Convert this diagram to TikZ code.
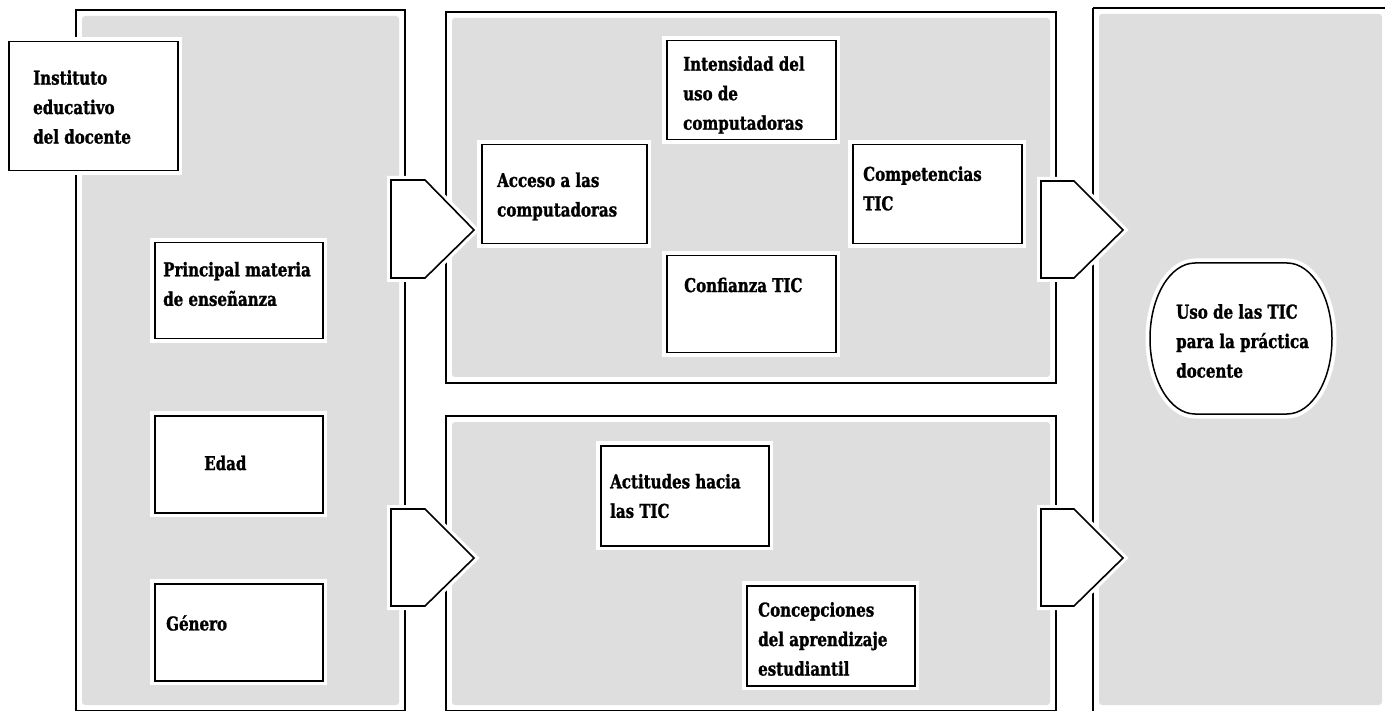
\documentclass[tikz,border=0pt]{standalone}
\usepackage{fontspec}
\newfontfamily\labfont{DejaVu Serif Condensed}[FakeStretch=0.88, FakeBold=1.3]
\definecolor{panelgrey}{HTML}{DEDEDE}
\tikzset{
  frame/.style={draw=black, line width=1.8pt, fill=white},
  inner/.style={fill=panelgrey, rounded corners=3pt},
  box/.style={draw=black, line width=1.5pt, fill=white, rectangle, inner sep=0pt,
     anchor=north west, preaction={draw=white, line width=9pt}},
  lbl/.style={font=\labfont\bfseries\fontsize{19}{29.5}\selectfont, align=left,
     anchor=west, inner sep=0pt, text=black},
  pent/.style={draw=black, line width=1.6pt, fill=white, line join=miter,
     preaction={draw=white, line width=8pt}},
}
\begin{document}
\begin{tikzpicture}[x=1pt,y=-1pt]
\useasboundingbox (0,0) rectangle (1385,711);
\begin{scope}
\clip (0,0) rectangle (1385,711);
% panels
\draw[frame] (76,10) rectangle (405,711);
\fill[inner] (82,16) rectangle (399,705);
\draw[frame] (446,12) rectangle (1056,383);
\fill[inner] (452,18) rectangle (1050,377);
\draw[frame] (446,416) rectangle (1056,711);
\fill[inner] (452,422) rectangle (1050,705);
\draw[frame] (1093,8) -- (1395,8) (1093,8) -- (1093,711);
\fill[inner] (1099,14) rectangle (1382,705);
\end{scope}

% left column boxes
\node[box, minimum width=169pt, minimum height=129pt] (inst) at (8,41) {};
\node[box, minimum width=168pt, minimum height=96pt] (mat) at (154,242) {};
\node[box, minimum width=168pt, minimum height=97pt] (edad) at (154,415) {};
\node[box, minimum width=168pt, minimum height=97pt] (gen) at (154,583) {};

% top middle boxes
\node[box, minimum width=165pt, minimum height=99pt] (acc) at (481,144) {};
\node[box, minimum width=169pt, minimum height=99pt] (int) at (666,40) {};
\node[box, minimum width=169pt, minimum height=99pt] (comp) at (852,144) {};
\node[box, minimum width=169pt, minimum height=97pt] (conf) at (666,255) {};

% bottom middle boxes
\node[box, minimum width=168pt, minimum height=100pt] (act) at (600,445) {};
\node[box, minimum width=168pt, minimum height=100pt] (conc) at (746,585) {};

% oval
\draw[draw=black, line width=1.5pt, fill=white, preaction={draw=white, line width=9pt}]
  (1195,263) -- (1287,263) arc[start angle=-90, end angle=90, x radius=45, y radius=75.5]
  -- (1195,414) arc[start angle=90, end angle=270, x radius=45, y radius=75.5] -- cycle;
\coordinate (uso) at (1241,338.5);

% pentagon arrows
\draw[pent] (391,180) -- (425,180) -- (474,230) -- (425,278) -- (391,278) -- cycle;
\draw[pent] (391,509) -- (425,509) -- (474,558) -- (425,606) -- (391,606) -- cycle;
\draw[pent] (1041,181) -- (1074,181) -- (1123,230) -- (1074,278) -- (1041,278) -- cycle;
\draw[pent] (1041,509) -- (1074,509) -- (1123,558) -- (1074,606) -- (1041,606) -- cycle;

% labels
\node[lbl] (tinst) at (33,107) {Instituto\\educativo\\del docente};
\node[lbl] (tmat) at (163,284) {Principal materia\\de enseñanza};
\node[lbl] (tedad) at (204,463) {Edad};
\node[lbl] (tgen) at (166,623) {Género};
\node[lbl] (tint) at (683,95) {Intensidad del\\uso de\\computadoras};
\node[lbl] (tacc) at (497,196.5) {Acceso a las\\computadoras};
\node[lbl] (tcomp) at (863,188.5) {Competencias\\TIC};
\node[lbl] (tconf) at (684,285) {Confianza TIC};
\node[lbl] (tact) at (610,496) {Actitudes hacia\\las TIC};
\node[lbl] (tconc) at (758,639) {Concepciones\\del aprendizaje\\estudiantil};
\node[lbl] (tuso) at (1176,341) {Uso de las TIC\\para la práctica\\docente};
\end{tikzpicture}
\end{document}
